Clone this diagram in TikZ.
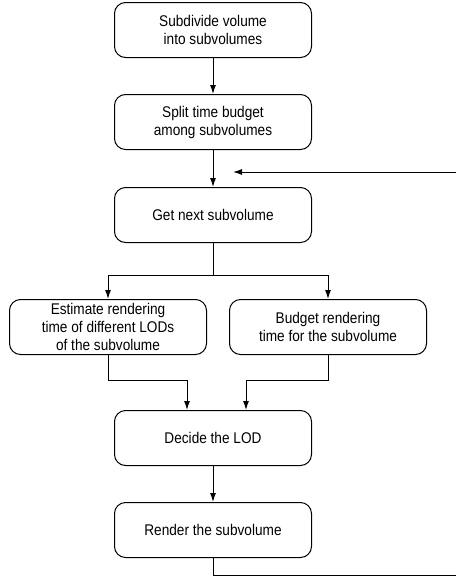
\documentclass[tikz,border=0pt]{standalone}
\usepackage{fontspec}
\setmainfont[FakeStretch=0.88]{Liberation Sans}
\usetikzlibrary{arrows.meta}

\begin{document}
\begin{tikzpicture}
[x=1pt,y=-1pt,line width=1pt,>={Latex[length=9pt,width=6pt]},%
  every node/.style={shape=rectangle,rounded corners=11pt,draw,line width=1pt,
    minimum width=197pt,minimum height=55pt,align=center,
    font=\fontsize{15.5}{18}\selectfont}]
\useasboundingbox (0,0) rectangle (456,582);
\node (subdivide) at (213,30) {Subdivide volume\\into subvolumes};
\node (split) at (213,122) {Split time budget\\among subvolumes};
\node (getnext) at (213,215) {Get next subvolume};
\node (estimate) at (108,327) {Estimate rendering\\time of different LODs\\of the subvolume};
\node (budget) at (328,327) {Budget rendering\\time for the subvolume};
\node (decide) at (213,438) {Decide the LOD};
\node (render) at (213,530) {Render the subvolume};
% loop back, cut off at the right edge
\coordinate (back) at (456,575);
\coordinate (loop) at (456,172);
\coordinate (looptip) at (233,172);
\draw[->] (subdivide) -- (split);
\draw[->] (split) -- (getnext);
\draw[->] (loop) -- (looptip);
\draw[->] (getnext.south) -- ++(0,32) -| (estimate.north);
\draw[->] (getnext.south) -- ++(0,32) -| (budget.north);
\draw[->] (estimate.south) -- ++(0,25) -| ([xshift=-26pt]decide.north);
\draw[->] (budget.south) -- ++(0,25) -| ([xshift=33pt]decide.north);
\draw[->] (decide) -- (render);
\draw (render.south) |- (back);
\end{tikzpicture}
\end{document}
